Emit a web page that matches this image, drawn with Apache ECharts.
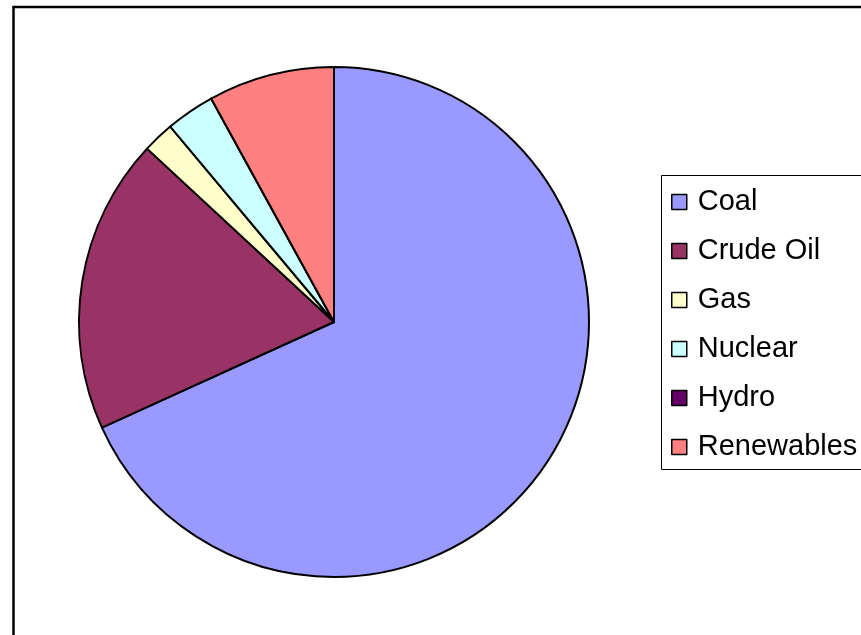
<!DOCTYPE html>
<html>
<head>
<meta charset="utf-8">
<title>Energy mix</title>
<script src="https://cdn.jsdelivr.net/npm/echarts@6/dist/echarts.min.js"></script>
<style>
    html, body { margin: 0; padding: 0; background: #fff; }
    #chart { width: 861px; height: 635px; }
</style>
</head>
<body>
<div id="chart"></div>
<script>
// 数据
var categories = ['Coal', 'Crude Oil', 'Gas', 'Nuclear', 'Hydro', 'Renewables'];
var shares = [68.2, 18.7, 2.0, 3.1, 0, 8.0];
var colors = ['#9999FF', '#993366', '#FFFFCC', '#CCFFFF', '#660066', '#FF8080'];

(function() {
    var myChart = echarts.init(document.getElementById('chart'));
    var option = {
        animation: false,
        color: colors,
        graphic: [{
            // 外框
            type: 'rect',
            silent: true,
            shape: { x: 13.5, y: 7, width: 1000, height: 1000 },
            style: { fill: 'none', stroke: '#000', lineWidth: 2.5 }
        }, {
            // 图例框 (右侧超出画面)
            type: 'rect',
            silent: true,
            shape: { x: 661.5, y: 175.5, width: 300, height: 294 },
            style: { fill: 'none', stroke: '#000', lineWidth: 1 }
        }],
        legend: {
            orient: 'vertical',
            left: 661,
            top: 175,
            padding: [12, 0, 8, 10],
            itemWidth: 15,
            itemHeight: 15,
            itemGap: 19,
            icon: 'rect',
            itemStyle: { borderColor: '#000', borderWidth: 1.5 },
            textStyle: {
                fontFamily: 'Liberation Sans, Arial, sans-serif',
                fontSize: 29,
                lineHeight: 30,
                color: '#000',
                padding: [0, 0, 0, 6]
            },
            data: categories
        },
        series: [{
            type: 'pie',
            center: [334, 322],
            radius: [0, 255],
            startAngle: 90,
            clockwise: true,
            label: { show: false },
            labelLine: { show: false },
            emphasis: { disabled: true },
            itemStyle: { borderColor: '#000', borderWidth: 2 },
            data: categories.map(function(name, i) {
                return { name: name, value: shares[i] };
            })
        }]
    };
    myChart.setOption(option);
})();
</script>
</body>
</html>
